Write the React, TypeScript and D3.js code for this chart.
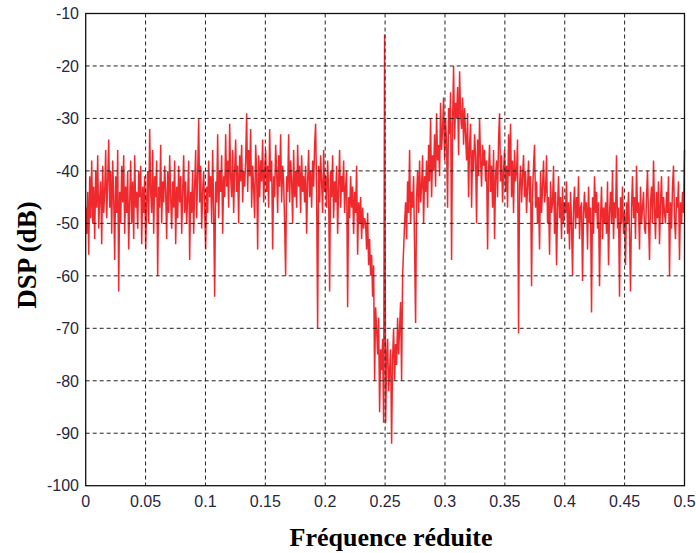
import React from "react";
import * as d3 from "d3";

const dsp: number[] = [
  -47, -52, -44, -56, -41, -49, -38, -50, -43, -53, -40, -47, -37, -51, -45, -42, -54, -39, -48, -44,
  -36, -49, -42, -34, -47, -40, -52, -38, -45, -57, -41, -48, -36, -63, -44, -50, -39, -46, -37, -52,
  -43, -48, -40, -55, -46, -38, -50, -42, -53, -37, -47, -44, -51, -40, -45, -39, -54, -43, -48, -41,
  -55, -46, -40, -50, -32, -44, -48, -36, -52, -41, -45, -38, -60, -43, -47, -35, -50, -42, -46, -39,
  -44, -53, -40, -48, -37, -45, -51, -42, -47, -38, -54, -43, -49, -39, -46, -41, -52, -44, -37, -48,
  -42, -50, -45, -38, -57, -44, -48, -40, -52, -43, -36, -49, -41, -30, -46, -39, -51, -44, -40, -47,
  -55, -43, -48, -38, -45, -41, -50, -36, -47, -64, -42, -46, -33, -49, -40, -44, -37, -52, -41, -45,
  -33, -43, -38, -47, -31, -41, -45, -36, -48, -40, -34, -44, -39, -50, -37, -42, -35, -46, -40, -43,
  -38, -29, -44, -36, -41, -32, -47, -39, -43, -49, -35, -40, -55, -37, -45, -38, -42, -34, -46, -40,
  -36, -44, -39, -47, -32, -42, -38, -55, -41, -45, -35, -40, -48, -37, -43, -33, -46, -39, -42, -50,
  -60, -41, -44, -33, -46, -38, -42, -50, -36, -45, -40, -47, -35, -43, -39, -48, -37, -44, -41, -46,
  -39, -52, -42, -36, -45, -40, -47, -38, -43, -35, -31, -44, -70, -39, -46, -37, -42, -48, -36, -44,
  -41, -47, -38, -44, -63, -40, -45, -37, -49, -42, -46, -39, -52, -43, -36, -47, -41, -44, -38, -48,
  -43, -40, -66, -45, -49, -41, -47, -43, -52, -44, -48, -39, -56, -46, -50, -45, -53, -47, -51, -49,
  -50, -55, -48, -58, -53, -60, -56, -64, -58, -80, -66, -70, -75, -68, -86, -74, -78, -72, -88, -14,
  -88, -76, -72, -82, -78, -74, -92, -76, -70, -80, -73, -77, -68, -75, -70, -65, -80, -60, -55, -50,
  -46, -53, -42, -48, -36, -50, -44, -47, -41, -55, -69, -45, -40, -48, -38, -46, -43, -37, -50, -41,
  -44, -38, -47, -35, -42, -30, -45, -37, -40, -33, -43, -29, -38, -35, -41, -27, -36, -32, -26, -38,
  -30, -35, -47, -28, -33, -25, -57, -31, -20, -34, -27, -30, -24, -37, -21, -29, -32, -26, -35, -28,
  -33, -38, -29, -45, -35, -31, -47, -36, -40, -33, -37, -50, -34, -41, -30, -38, -43, -35, -39, -36,
  -42, -38, -55, -40, -35, -44, -39, -47, -36, -53, -41, -38, -45, -34, -29, -42, -37, -46, -40, -36,
  -44, -39, -47, -33, -41, -31, -45, -38, -48, -36, -42, -40, -34, -71, -43, -39, -46, -41, -37, -45,
  -40, -48, -43, -38, -46, -41, -62, -44, -39, -35, -47, -42, -50, -45, -55, -40, -48, -43, -38, -46,
  -44, -37, -50, -45, -56, -42, -48, -46, -39, -52, -44, -58, -47, -41, -49, -45, -53, -43, -50, -46,
  -48, -42, -52, -46, -55, -44, -50, -60, -47, -43, -51, -45, -49, -41, -53, -47, -46, -61, -48, -44,
  -49, -46, -55, -43, -50, -47, -67, -45, -52, -41, -48, -44, -51, -46, -62, -49, -43, -53, -47, -50,
  -46, -52, -42, -58, -48, -44, -50, -40, -53, -46, -49, -37, -51, -47, -64, -45, -50, -43, -52, -48,
  -58, -46, -50, -44, -52, -63, -47, -41, -49, -45, -53, -39, -48, -46, -55, -43, -50, -47, -44, -51,
  -52, -45, -40, -49, -57, -46, -43, -50, -38, -47, -53, -44, -49, -42, -54, -46, -41, -50, -45, -48,
  -50, -44, -48, -41, -60, -46, -51, -43, -39, -49, -53, -45, -47, -42, -57, -46, -50, -44, -48, -36,
];

const xTicks: number[] = [0, 0.05, 0.1, 0.15, 0.2, 0.25, 0.3, 0.35, 0.4, 0.45, 0.5];
const yTicks: number[] = [-100, -90, -80, -70, -60, -50, -40, -30, -20, -10];
const xLabel = "Fréquence réduite";
const yLabel = "DSP (dB)";

export default function App() {
  const W = 696, H = 553;
  const left = 85.7, right = 684.5, top = 13.5, bottom = 485.7;
  const x = d3.scaleLinear().domain([0, 0.5]).range([left, right]);
  const y = d3.scaleLinear().domain([-100, -10]).range([bottom, top]);
  const n = dsp.length;
  const line = d3
    .line<number>()
    .x((_, i) => x((i * 0.5) / (n - 1)))
    .y((d) => y(d));
  const tickFont = "Liberation Sans, Arial, sans-serif";
  const titleFont = "Liberation Serif, Times New Roman, serif";
  return (
    <svg
      width={W}
      height={H}
      style={{ position: "absolute", left: 0, top: 0, background: "#fff" }}
    >
      <rect x={0} y={0} width={W} height={H} fill="#fff" />
      <path
        d={line(dsp) || ""}
        fill="none"
        stroke="#ee2a2f"
        strokeWidth={1.5}
        strokeLinejoin="miter"
        strokeMiterlimit={2}
      />
      {yTicks.slice(1, -1).map((t) => (
        <line
          key={"gy" + t}
          x1={left}
          x2={right}
          y1={y(t)}
          y2={y(t)}
          stroke="#222"
          strokeWidth={1}
          strokeDasharray="4,3"
        />
      ))}
      {xTicks.slice(1, -1).map((t) => (
        <line
          key={"gx" + t}
          x1={x(t)}
          x2={x(t)}
          y1={top}
          y2={bottom}
          stroke="#222"
          strokeWidth={1}
          strokeDasharray="4,3"
        />
      ))}
      <rect
        x={left}
        y={top}
        width={right - left}
        height={bottom - top}
        fill="none"
        stroke="#111"
        strokeWidth={1.3}
      />
      {yTicks.map((t) => (
        <text
          key={"ly" + t}
          x={79}
          y={y(t)}
          dy="0.36em"
          textAnchor="end"
          fontFamily={tickFont}
          fontSize={16}
          fill="#262640"
        >
          {t}
        </text>
      ))}
      {xTicks.map((t) => (
        <text
          key={"lx" + t}
          x={x(t)}
          y={507}
          textAnchor="middle"
          fontFamily={tickFont}
          fontSize={16}
          fill="#262640"
        >
          {String(t)}
        </text>
      ))}
      <text
        x={391}
        y={546}
        textAnchor="middle"
        fontFamily={titleFont}
        fontWeight="bold"
        fontSize={26}
        fill="#000"
      >
        {xLabel}
      </text>
      <text
        transform={`translate(36, 255) rotate(-90)`}
        textAnchor="middle"
        fontFamily={titleFont}
        fontWeight="bold"
        fontSize={27}
        fill="#000"
      >
        {yLabel}
      </text>
    </svg>
  );
}
